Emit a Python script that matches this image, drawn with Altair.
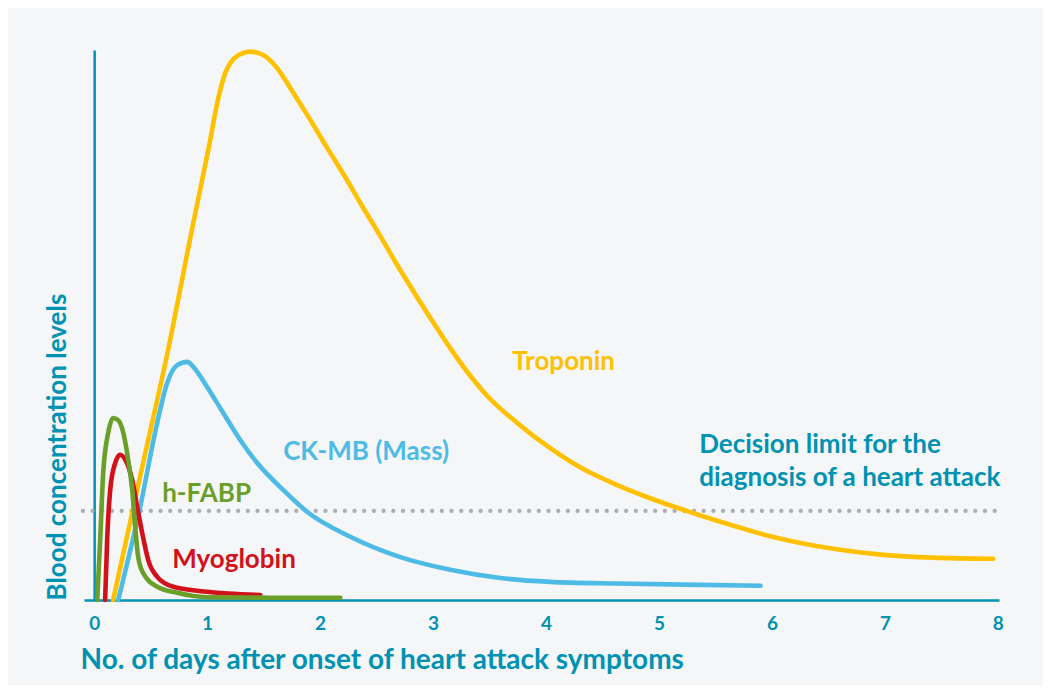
import altair as alt
import pandas as pd

# ---- data (days after onset, relative blood level 0-100) ----
troponin_days = [0.168, 0.416, 0.673, 0.865, 0.968, 1.027, 1.071, 1.116, 1.160, 1.204,
                 1.278, 1.381, 1.496, 1.620, 1.736, 1.886, 2.063, 2.222, 2.373, 2.532,
                 2.683, 2.842, 3.001, 3.152, 3.302, 3.480, 3.745, 4.037, 4.330, 4.630,
                 4.923, 5.215, 5.516, 5.985, 6.543, 6.985, 7.428, 7.960]
troponin_level = [0, 23.3, 47.3, 67.3, 77.6, 83.6, 88.5, 92.7, 95.8, 97.6,
                  99.1, 99.7, 99.1, 96.7, 93.1, 88.2, 82.2, 76.9, 71.6, 66.2,
                  60.9, 55.6, 50.5, 45.8, 41.5, 37.1, 32.2, 27.6, 23.8, 20.9,
                  18.5, 16.4, 14.4, 11.6, 9.3, 8.2, 7.7, 7.5]

ckmb_days = [0.213, 0.407, 0.558, 0.647, 0.735, 0.824, 0.877, 1.001, 1.143, 1.293,
             1.444, 1.674, 1.887, 2.267, 2.710, 3.153, 3.596, 4.039, 4.632, 5.217, 5.899]
ckmb_level = [0, 16.9, 32.2, 39.5, 42.7, 43.3, 42.4, 38.7, 34.0, 29.1,
              24.9, 20.0, 16.0, 11.5, 7.8, 5.5, 4.0, 3.3, 3.0, 2.8, 2.6]

hfabp_days = [0.027, 0.053, 0.080, 0.124, 0.168, 0.213, 0.257, 0.301, 0.337, 0.363,
              0.390, 0.434, 0.558, 0.735, 1.001, 1.736, 2.179]
hfabp_level = [0, 10.9, 23.1, 30.4, 33.1, 32.7, 30.5, 25.5, 20.0, 13.3,
               7.8, 4.9, 2.4, 1.3, 0.5, 0.4, 0.4]

myo_days = [0.097, 0.115, 0.142, 0.186, 0.230, 0.275, 0.337, 0.381, 0.425, 0.478,
            0.558, 0.700, 1.001, 1.470]
myo_level = [0, 10.9, 20.0, 24.9, 26.4, 25.5, 21.8, 16.9, 12.2, 7.3,
             4.2, 2.4, 1.5, 0.9]

decision_limit = 16.2

label_names = ["Troponin", "CK-MB (Mass)", "h-FABP", "Myoglobin"]
x_ticks = [0, 1, 2, 3, 4, 5, 6, 7, 8]

# ---- styling ----
TEAL = "#0092b2"
YELLOW = "#ffc000"
BLUE = "#4dbbe6"
GREEN = "#6a9f2a"
RED = "#d2111b"
FONT = "Lato"

xscale = alt.Scale(domain=[-0.09, 8.01], nice=False, zero=False)
yscale = alt.Scale(domain=[0, 100], nice=False)

xaxis = alt.Axis(
    values=x_ticks, format="d", ticks=False, grid=False,
    domainColor=TEAL, domainWidth=2.5,
    labelFont=FONT, labelFontSize=19, labelFontWeight="bold", labelColor=TEAL,
    labelPadding=14, labelFlush=False,
    title="No. of days after onset of heart attack symptoms",
    titleFont=FONT, titleFontSize=28, titleFontWeight="bold", titleColor=TEAL,
    titleAlign="left", titleBaseline="alphabetic", titleX=-4, titleY=68,
)
yaxis = alt.Axis(
    offset=-10.17, ticks=False, labels=False, grid=False,
    domainColor=TEAL, domainWidth=2.5,
    title="Blood concentration levels",
    titleFont=FONT, titleFontSize=26, titleFontWeight="bold", titleColor=TEAL,
    titleAngle=270, titleAlign="left", titleBaseline="alphabetic",
    titleX=-29, titleY=550,
)

def line_layer(days, level, color):
    df = pd.DataFrame({"day": days, "level": level})
    return alt.Chart(df).mark_line(
        color=color, strokeWidth=4.6, interpolate="monotone", strokeCap="round"
    ).encode(
        x=alt.X("day:Q", scale=xscale, axis=xaxis),
        y=alt.Y("level:Q", scale=yscale, axis=yaxis),
    )

limit_rule = alt.Chart(pd.DataFrame({"level": [decision_limit]})).mark_rule(
    color="#abaeb3", strokeWidth=4.2, strokeDash=[0.1, 9.6], strokeCap="round"
).encode(
    y=alt.Y("level:Q", scale=yscale, axis=yaxis),
    x=alt.datum(-0.1, scale=xscale),
    x2=alt.datum(8.01),
)

# annotation anchors (left edge, baseline) in data units
ann = pd.DataFrame({
    "label": label_names,
    "day": [3.70, 1.673, 0.602, 0.691],
    "level": [41.8, 25.45, 17.8, 5.8],
    "color": [YELLOW, BLUE, GREEN, RED],
})
labels = alt.Chart(ann).mark_text(
    align="left", baseline="alphabetic", font=FONT, fontWeight="bold", fontSize=26
).encode(
    x=alt.X("day:Q", scale=xscale, axis=xaxis),
    y=alt.Y("level:Q", scale=yscale, axis=yaxis),
    text="label:N",
    color=alt.Color("color:N", scale=None),
)

decision = alt.Chart(pd.DataFrame({
    "label": ["Decision limit for the\ndiagnosis of a heart attack"],
    "day": [5.356], "level": [26.7],
})).mark_text(
    align="left", baseline="alphabetic", font=FONT, fontWeight="bold", fontSize=26,
    lineBreak="\n", lineHeight=33, color=TEAL,
).encode(
    x=alt.X("day:Q", scale=xscale, axis=xaxis),
    y=alt.Y("level:Q", scale=yscale, axis=yaxis),
    text="label:N",
)

chart = alt.layer(
    limit_rule,
    line_layer(troponin_days, troponin_level, YELLOW),
    line_layer(ckmb_days, ckmb_level, BLUE),
    line_layer(myo_days, myo_level, RED),
    line_layer(hfabp_days, hfabp_level, GREEN),
    labels,
    decision,
).properties(
    width=915, height=550,
    background="#f5f6f8",
    padding={"left": 76, "top": 42, "right": 44, "bottom": 85},
    autosize=alt.AutoSizeParams(type="none"),
).configure_view(stroke=None)

chart.save("out.html", embed_options={"renderer": "svg", "actions": False})
